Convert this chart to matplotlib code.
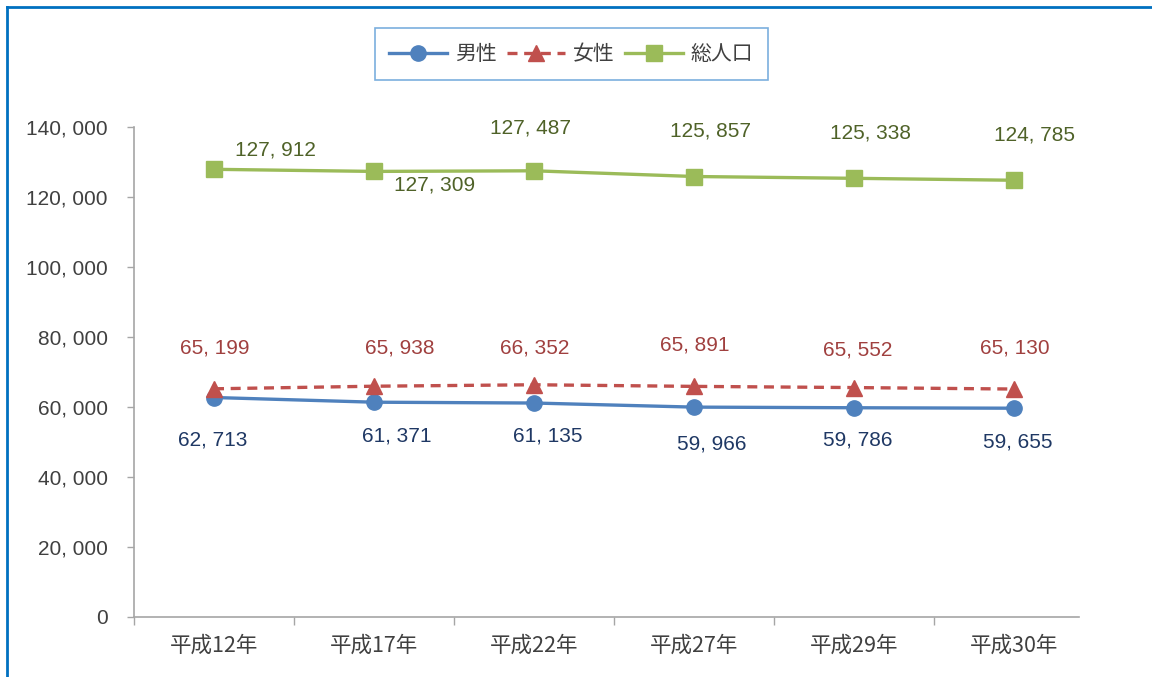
import matplotlib as mpl
import matplotlib.pyplot as plt
from matplotlib.lines import Line2D
from matplotlib.ticker import FuncFormatter, FixedLocator

plt.rcParams['font.family'] = ['Noto Sans CJK JP', 'DejaVu Sans']

years = ['平成12年', '平成17年', '平成22年', '平成27年', '平成29年', '平成30年']
male = [62713, 61371, 61135, 59966, 59786, 59655]
female = [65199, 65938, 66352, 65891, 65552, 65130]
total = [127912, 127309, 127487, 125857, 125338, 124785]

# label offsets in pixels (dx, dy) relative to each marker
male_off = [(-1, -42), (23, -34), (14, -33), (18, -37), (4, -32), (4, -34)]
female_off = [(1, 41), (26, 38), (1, 37), (1, 41), (4, 38), (1, 41)]
total_off = [(61, 19), (61, -14), (-4, 43), (16, 46), (16, 45), (21, 45)]

num_font = ['Liberation Sans', 'DejaVu Sans']

def fmt(v):
    return '{:,}'.format(int(v)).replace(',', ', ')

fig = plt.figure(figsize=(11.52, 6.77), dpi=100)
ax = fig.add_axes([134 / 1152, 1 - 617 / 677, (1079 - 134) / 1152, (617 - 127) / 677])

x = list(range(len(years)))
c_male, c_female, c_total = '#4F81BD', '#C0504D', '#9BBB59'

ax.plot(x, male, color=c_male, lw=2.4, marker='o', ms=11, label='男性')
ax.plot(x, female, color=c_female, lw=2.4, ls=(0, (3, 2)), marker='^', ms=11, label='女性')
ax.plot(x, total, color=c_total, lw=2.4, marker='s', ms=11.5, label='総人口')

for vals, offs, col in [(male, male_off, '#1F3864'),
                        (female, female_off, '#A0403F'),
                        (total, total_off, '#4F6228')]:
    for i, v in enumerate(vals):
        ax.annotate(fmt(v), (i, v), xytext=offs[i], textcoords='offset pixels',
                    ha='center', va='center', fontsize=15, color=col, family=num_font)

ax.set_ylim(0, 140000)
ax.set_xlim(-0.5, 5.5 - 15 / 160)
ax.yaxis.set_major_locator(FixedLocator(range(0, 140001, 20000)))
ax.yaxis.set_major_formatter(FuncFormatter(lambda v, p: fmt(v)))
for lab in ax.get_yticklabels():
    lab.set_family(num_font)

ax.set_xticks(x)
ax.set_xticklabels(years)
ax.set_xticks([i - 0.5 for i in range(len(years))], minor=True)
ax.tick_params(axis='x', which='major', length=0, pad=13, labelsize=15.5, labelcolor='#404040')
ax.tick_params(axis='x', which='minor', length=6, color='#A6A6A6', width=1)
ax.tick_params(axis='y', length=5, color='#A6A6A6', width=1, labelsize=15,
               labelcolor='#404040', pad=14)

for s in ['top', 'right']:
    ax.spines[s].set_visible(False)
for s in ['left', 'bottom']:
    ax.spines[s].set_color('#A6A6A6')
    ax.spines[s].set_linewidth(1.2)

leg = fig.legend(loc='center', bbox_to_anchor=(571 / 1152, 1 - 54 / 677), ncol=3,
                 fontsize=15, frameon=True, fancybox=False, handlelength=2.8,
                 columnspacing=0.5, handletextpad=0.35, borderpad=0.7)
leg.get_frame().set_edgecolor('#5B9BD5')
leg.get_frame().set_linewidth(1.2)
for t in leg.get_texts():
    t.set_color('#404040')

# outer border (only top and left visible in the crop)
fig.add_artist(Line2D([7 / 1152, 7 / 1152], [0, 1 - 7 / 677], color='#0070C0', lw=2))
fig.add_artist(Line2D([7 / 1152, 1], [1 - 7 / 677, 1 - 7 / 677], color='#0070C0', lw=2))

fig.savefig('out.png', dpi=100)
